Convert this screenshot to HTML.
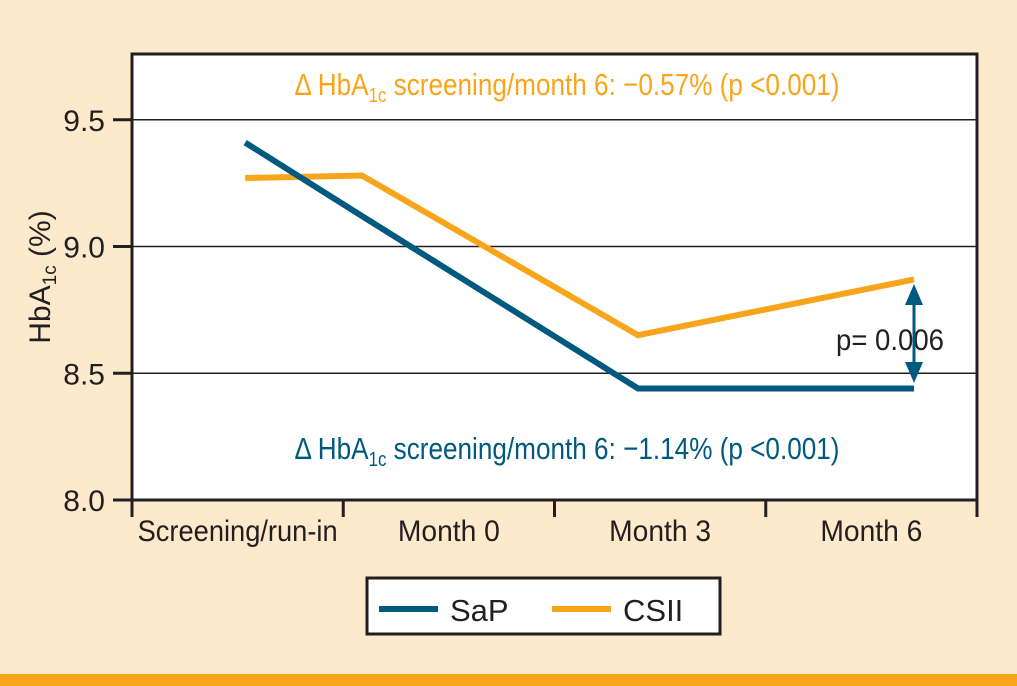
<!DOCTYPE html>
<html><head><meta charset="utf-8"><style>
body{margin:0;width:1017px;height:686px;background:#fde9cb;overflow:hidden}
svg{display:block}
text{font-family:"Liberation Sans",sans-serif}
</style></head><body>
<svg width="1017" height="686">
<rect x="0" y="674" width="1017" height="12" fill="#f9a51c"/>
<rect x="132" y="54" width="845" height="446" fill="#fff" stroke="#231f20" stroke-width="3"/>
<g id="grid"></g><g id="series"></g><g id="axes"></g>
<text x="567" y="95" fill="#f9a51c" font-size="31" text-anchor="middle" textLength="545" lengthAdjust="spacingAndGlyphs">Δ HbA<tspan font-size="20" dy="7">1c</tspan><tspan dy="-7"> screening/month 6: −0.57% (p &lt;0.001)</tspan></text>
<text x="567" y="459" fill="#005a7f" font-size="31" text-anchor="middle" textLength="545" lengthAdjust="spacingAndGlyphs">Δ HbA<tspan font-size="20" dy="7">1c</tspan><tspan dy="-7"> screening/month 6: −1.14% (p &lt;0.001)</tspan></text>
<text x="836" y="350" fill="#231f20" font-size="30" textLength="108" lengthAdjust="spacingAndGlyphs">p= 0.006</text>
<g>
<line x1="914" y1="300" x2="914" y2="368" stroke="#005a7f" stroke-width="3"/>
<polygon points="905,305 923,305 914,284" fill="#005a7f"/>
<polygon points="905,362 923,362 914,383" fill="#005a7f"/>
</g>
<text transform="translate(50,277) rotate(-90)" font-size="30" text-anchor="middle" fill="#231f20">HbA<tspan font-size="19" dy="6">1c</tspan><tspan dy="-6"> (%)</tspan></text>
<rect x="367" y="578" width="353" height="56" fill="#fff" stroke="#231f20" stroke-width="3"/>
<g><line x1="379" y1="609" x2="438" y2="609" stroke="#005a7f" stroke-width="6"/><text x="450" y="621" font-size="31" fill="#231f20">SaP</text></g>
<g><line x1="552" y1="609" x2="611" y2="609" stroke="#f9a51c" stroke-width="6"/><text x="623" y="621" font-size="31" fill="#231f20">CSII</text></g>
</svg>
<script>
const categories=["Screening/run-in","Month 0","Month 3","Month 6"];
const timeMonths=[-1.27,0,3,6];
const sapValues=[9.41,9.12,8.44,8.44];
const csiiValues=[9.27,9.28,8.65,8.87];
const yTicks=[8.0,8.5,9.0,9.5];
const NS="http://www.w3.org/2000/svg";
const y=v=>500-(v-8)*253.5;
const x=t=>362+t*92;
function mk(tag,attrs,parent){const e=document.createElementNS(NS,tag);for(const k in attrs)e.setAttribute(k,attrs[k]);document.getElementById(parent).appendChild(e);return e;}
yTicks.forEach((v,i)=>{
 if(i>0){const g=mk('line',{x1:132,x2:977,y1:y(v),y2:y(v),stroke:'#231f20','stroke-width':1.5},'grid');
 
 }
 const t=mk('line',{x1:113,x2:132,y1:y(v),y2:y(v),stroke:'#231f20','stroke-width':3},'axes');
 
 
 const l=mk('text',{x:105,y:y(v)+11,'font-size':30,'text-anchor':'end',fill:'#231f20'},'axes');
 l.textContent=v.toFixed(1);
 
 
});
const bw=845/categories.length;
categories.forEach((c,i)=>{
 const tk=mk('line',{x1:132+i*bw,x2:132+i*bw,y1:500,y2:517,stroke:'#231f20','stroke-width':3},'axes');
 
 
 const l=mk('text',{x:132+(i+0.5)*bw,y:541,'font-size':30,'text-anchor':'middle',fill:'#231f20',textLength:c.length>10?200:102,lengthAdjust:'spacingAndGlyphs'},'axes');
 l.textContent=c;
 
 
});
const lt=mk('line',{x1:977,x2:977,y1:500,y2:517,stroke:'#231f20','stroke-width':3},'axes');


function series(vals,col,name){
 const p=mk('polyline',{points:vals.map((v,i)=>x(timeMonths[i])+','+y(v)).join(' '),fill:'none',stroke:col,'stroke-width':6,'stroke-linejoin':'miter'},'series');
 
 
}
series(csiiValues,'#f9a51c','csii-line');
series(sapValues,'#005a7f','sap-line');
</script>
</body></html>
